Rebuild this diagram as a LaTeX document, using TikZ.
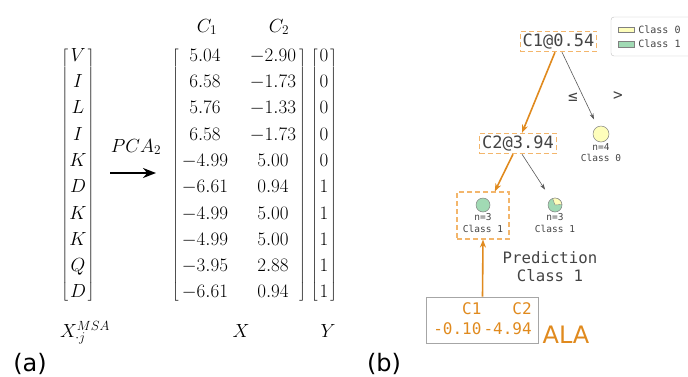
\RequirePackage{fix-cm}
\documentclass[tikz,border=0pt]{standalone}
\usepackage{amsmath}
\usepackage{fontspec}
\newfontfamily\monofont{DejaVu Sans Mono}
\newfontfamily\sansfont{DejaVu Sans}
\usetikzlibrary{arrows.meta, matrix, positioning}
\definecolor{class0}{HTML}{FEFEBB}
\definecolor{class1}{HTML}{A1DAB4}
\definecolor{hilite}{HTML}{E08A1E}
\definecolor{hidash}{HTML}{F3B66C}
\definecolor{txtgray}{HTML}{444444}

\begin{document}
\begin{tikzpicture}[x=1pt, y=-1pt,
  mathtxt/.style={font=\fontsize{19}{23}\selectfont},
  mat/.style={matrix of math nodes, mathtxt, inner sep=0pt, row sep=7.33pt,
              left delimiter={[}, right delimiter={]},
              every delimiter/.style={mathtxt},
              nodes={text height=14pt, text depth=5pt, inner sep=0pt}},
  splitnode/.style={draw=hidash, dash pattern=on 5pt off 3pt, line width=1.1pt,
                    text=txtgray, font=\monofont\fontsize{17}{20}\selectfont,
                    inner xsep=2.5pt, inner ysep=2.5pt},
  leaf/.style={circle, draw=gray, line width=0.5pt, inner sep=0pt},
  leaflab/.style={align=center, font=\monofont\fontsize{9.5}{11.5}\selectfont,
                  text=txtgray, inner sep=0.5pt},
  hibox/.style={draw=hidash, dash pattern=on 5pt off 3pt, line width=1.1pt,
                minimum width=52pt, minimum height=47pt},
  hot/.style={hilite, line width=1.6pt, -{Stealth[length=8pt, width=6pt]}},
  cold/.style={gray!70!black, line width=0.6pt, -{Stealth[length=6pt, width=4pt]}},
  cmp/.style={font=\monofont\fontsize{16}{18}\selectfont, text=txtgray},
  legpatch/.style={draw=gray, line width=0.4pt, minimum width=16pt,
                   minimum height=5.5pt, inner sep=0pt},
  legtext/.style={font=\monofont\fontsize{10}{12}\selectfont, text=txtgray, inner sep=0pt},
  panel/.style={font=\sansfont\fontsize{24}{28}\selectfont},
]
\useasboundingbox (0,0) rectangle (688,376);
\clip (0,0) rectangle (688,376);

% (a) sequence column, PCA projection and labels
\matrix[mat, nodes={minimum width=15pt}] (msa) at (78,175) {
  V \\ I \\ L \\ I \\ K \\ D \\ K \\ K \\ Q \\ D \\
};
\matrix[mat, column sep=18pt, nodes={minimum width=50pt}] (pc) at (239,175) {
  5.04 & -2.90 \\
  6.58 & -1.73 \\
  5.76 & -1.33 \\
  6.58 & -1.73 \\
  -4.99 & 5.00 \\
  -6.61 & 0.94 \\
  -4.99 & 5.00 \\
  -4.99 & 5.00 \\
  -3.95 & 2.88 \\
  -6.61 & 0.94 \\
};
\matrix[mat, nodes={minimum width=10pt}] (cls) at (324,175) {
  0 \\ 0 \\ 0 \\ 0 \\ 0 \\ 1 \\ 1 \\ 1 \\ 1 \\ 1 \\
};

\node[mathtxt] (h1) at (207,27) {$C_1$};
\node[mathtxt] (h2) at (279,27) {$C_2$};
\node[mathtxt, anchor=base] (xmsa) at (85,337) {$X^{MSA}_{\cdot j}$};
\node[mathtxt, anchor=base] (xlab) at (241,337) {$X$};
\node[mathtxt, anchor=base] (ylab) at (328,337) {$Y$};

\node[mathtxt, anchor=base] (pca) at (136,152) {$PCA_2$};
\coordinate (arrL) at (110,173);
\coordinate (arrR) at (156,173);
\draw[line width=2pt, -{Stealth[length=13pt, width=10pt]}] (arrL) -- (arrR);

% (b) decision tree
\draw[rounded corners=3pt, draw=gray!50, fill=white] (611,17) rectangle (700,56);
\node[legpatch, fill=class0] (p0) at (626,29.5) {};
\node[legtext, right=4pt of p0] (c0) {Class 0};
\node[legpatch, fill=class1] (p1) at (626,44) {};
\node[legtext, right=4pt of p1] (c1) {Class 1};

\node[splitnode] (s1) at (558.5,41.5) {C1@0.54};
\node[splitnode] (s2) at (518,143.5) {C2@3.94};

\node[leaf, fill=class0, minimum size=16pt] (l0) at (601,134) {};
\node[leaflab, below=0.5pt of l0] (t0) {n=4\\Class 0};

\node[hibox] (b1) at (483,215.5) {};
\node[leaf, fill=class1, minimum size=14pt] (l1) at (483,205) {};
\node[leaflab, below=0.5pt of l1] (t1) {n=3\\Class 1};

\node[leaf, fill=class1, minimum size=14pt] (l2) at (555,205) {};
\filldraw[fill=class0, draw=gray, line width=0.4pt]
  (l2.center) -- +(-5:7) arc[start angle=-5, end angle=-110, radius=7] -- cycle;
\node[leaflab, below=0.5pt of l2] (t2) {n=3\\Class 1};

\node[cmp] (le) at (573,97) {≤};
\node[cmp] (gt) at (618,96) {>};

\draw[hot] ([xshift=-3.5pt]s1.south) -- ([xshift=4pt]s2.north);
\draw[cold, shorten >=8pt] ([xshift=3.5pt]s1.south) -- (l0);
\draw[hot] ([xshift=-5pt]s2.south) -- (b1);
\draw[cold, shorten >=11pt] ([xshift=4pt]s2.south) -- (l2);

\node[align=center, font=\monofont\fontsize{15.7}{18}\selectfont, text=txtgray]
  (pred) at (550,267) {Prediction\\Class 1};

\node[draw=gray!70, line width=0.8pt, text=hilite, inner xsep=6.5pt, inner ysep=3pt,
      font=\monofont\fontsize{16}{20}\selectfont] (obs) at (482.5,320)
  {\begin{tabular}{@{}r@{\hspace{2pt}}r@{}}C1 & C2\\-0.10 & -4.94\end{tabular}};
\draw[hot] (obs.north) -- (b1.south);
\node[panel, text=hilite, anchor=base] (res) at (566,343) {ALA};

\node[panel, anchor=base] (pa) at (30,371) {(a)};
\node[panel, anchor=base] (pb) at (384,371) {(b)};
\end{tikzpicture}
\end{document}
